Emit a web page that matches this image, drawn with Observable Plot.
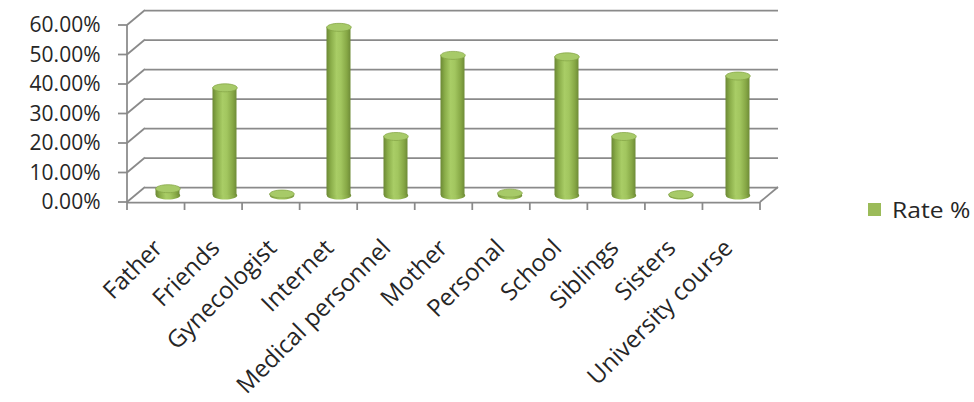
<!DOCTYPE html>
<html>
<head>
<meta charset="utf-8">
<script src="https://cdn.jsdelivr.net/npm/d3@7"></script>
<script src="https://cdn.jsdelivr.net/npm/@observablehq/plot@0.6"></script>
<style>
  html, body { margin: 0; padding: 0; background: #fff; }
  #wrap { position: relative; width: 974px; height: 402px; overflow: hidden; font-family: "Open Sans", sans-serif; }
  #legend { position: absolute; left: 868px; top: 196px; height: 26px; display: flex; align-items: center; gap: 11px; font-size: 22px; color: #262626; }
  #legend .sw { width: 13px; height: 13px; background: #9bbb59; }
  #legend-label { display: inline-block; transform: scaleX(1.12); transform-origin: left center; }
</style>
</head>
<body>
<div id="wrap">
  <div id="chart"></div>
  <div id="legend"><span class="sw"></span><span id="legend-label"></span></div>
</div>
<script>
const categories = ["Father", "Friends", "Gynecologist", "Internet", "Medical personnel", "Mother", "Personal", "School", "Siblings", "Sisters", "University course"];
const rates = [2.3, 36.5, 0.5, 57, 20, 47.5, 0.8, 47, 20, 0.3, 40.5];
const yTicks = [0, 10, 20, 30, 40, 50, 60];
const seriesName = "Rate %";

const data = categories.map((c, i) => ({category: c, rate: rates[i]}));

const DEPTH_X = 18, DEPTH_Y = 15;   // back wall offset (px)
const BAR_DX = 9, BAR_DY = -7;       // bars sit mid-depth
const GRID = "#8a8a8a";

const ellipse = {
  draw(ctx) {
    const rx = 12.25, ry = 4, k = 0.5523;
    ctx.moveTo(rx, 0);
    ctx.bezierCurveTo(rx, k * ry, k * rx, ry, 0, ry);
    ctx.bezierCurveTo(-k * rx, ry, -rx, k * ry, -rx, 0);
    ctx.bezierCurveTo(-rx, -k * ry, -k * rx, -ry, 0, -ry);
    ctx.bezierCurveTo(k * rx, -ry, rx, -k * ry, rx, 0);
    ctx.closePath();
  }
};

const defs = () => {
  const d = d3.create("svg:defs");
  const g = d.append("linearGradient").attr("id", "cyl").attr("x1", 0).attr("x2", 1).attr("y1", 0).attr("y2", 0);
  [[0, "#6b8834"], [0.18, "#8aad49"], [0.42, "#a9cd66"], [0.6, "#a2c65f"], [0.85, "#86a745"], [1, "#6e8b37"]]
    .forEach(([o, c]) => g.append("stop").attr("offset", o).attr("stop-color", c));
  return d.node();
};

const frame3d = (index, scales, values, dimensions) => {
  const {width, marginLeft: ml, marginRight: mr} = dimensions;
  const y = scales.y;
  const x0 = ml, x1 = width - mr;
  const y0 = y(0);
  const bw = (x1 - x0) / categories.length;
  const g = d3.create("svg:g").attr("stroke", GRID).attr("stroke-width", 1.75).attr("fill", "none");
  for (const t of yTicks) {
    g.append("line").attr("x1", x0).attr("y1", y(t)).attr("x2", x0 + DEPTH_X).attr("y2", y(t) - DEPTH_Y);
    g.append("line").attr("x1", x0 - 9).attr("y1", y(t)).attr("x2", x0).attr("y2", y(t));
  }
  g.append("line").attr("x1", x1).attr("y1", y0).attr("x2", x1 + DEPTH_X).attr("y2", y0 - DEPTH_Y);
  g.append("line").attr("x1", x0).attr("y1", y(yTicks[yTicks.length - 1])).attr("x2", x0).attr("y2", y0);
  for (let i = 0; i <= categories.length; i++) {
    g.append("line").attr("x1", x0 + i * bw).attr("y1", y0).attr("x2", x0 + i * bw).attr("y2", y0 + 8);
  }
  return g.node();
};

const chart = Plot.plot({
  width: 974,
  height: 402,
  marginLeft: 127,
  marginRight: 214,
  marginTop: 25,
  marginBottom: 200,
  x: {domain: categories, padding: 0, axis: null},
  y: {domain: [0, 60], axis: null},
  style: {fontFamily: "'Open Sans', sans-serif", background: "white", overflow: "visible"},
  marks: [
    defs,
    Plot.ruleY(yTicks, {dx: DEPTH_X, dy: -DEPTH_Y, stroke: GRID, strokeWidth: 1.75}),
    frame3d,
    Plot.ruleY([0], {stroke: GRID, strokeWidth: 1.75}),
    Plot.dot(data, {x: "category", y: () => 0, symbol: ellipse, fill: "url(#cyl)", dx: BAR_DX, dy: BAR_DY}),
    Plot.barY(data, {x: "category", y: "rate", fill: "url(#cyl)", insetLeft: 16.5, insetRight: 16.5, dx: BAR_DX, dy: BAR_DY}),
    Plot.dot(data, {x: "category", y: "rate", symbol: ellipse, fill: "#a7ca68", stroke: "#86a647", strokeWidth: 0.75, dx: BAR_DX, dy: BAR_DY}),
    Plot.axisY(yTicks, {label: null, tickSize: 0, tickPadding: 27, tickFormat: d => d.toFixed(2) + "%", fontSize: 21, color: "#262626", ariaLabel: "y-labels"}),
    Plot.text(categories, {x: d => d, frameAnchor: "bottom", rotate: -45, textAnchor: "end", lineAnchor: "bottom", dx: 5, dy: 47, fontSize: 24, fill: "#262626"})
  ]
});
// widen the y tick labels horizontally, as in the reference
chart.querySelectorAll('g[aria-label="y-labels"] text, g[aria-label="y-axis tick label"] text').forEach(t => {
  const tr = t.getAttribute("transform") || "";
  t.setAttribute("transform", tr + " scale(1.25,1)");
});
document.getElementById("chart").appendChild(chart);
document.getElementById("legend-label").textContent = seriesName;
</script>
</body>
</html>
